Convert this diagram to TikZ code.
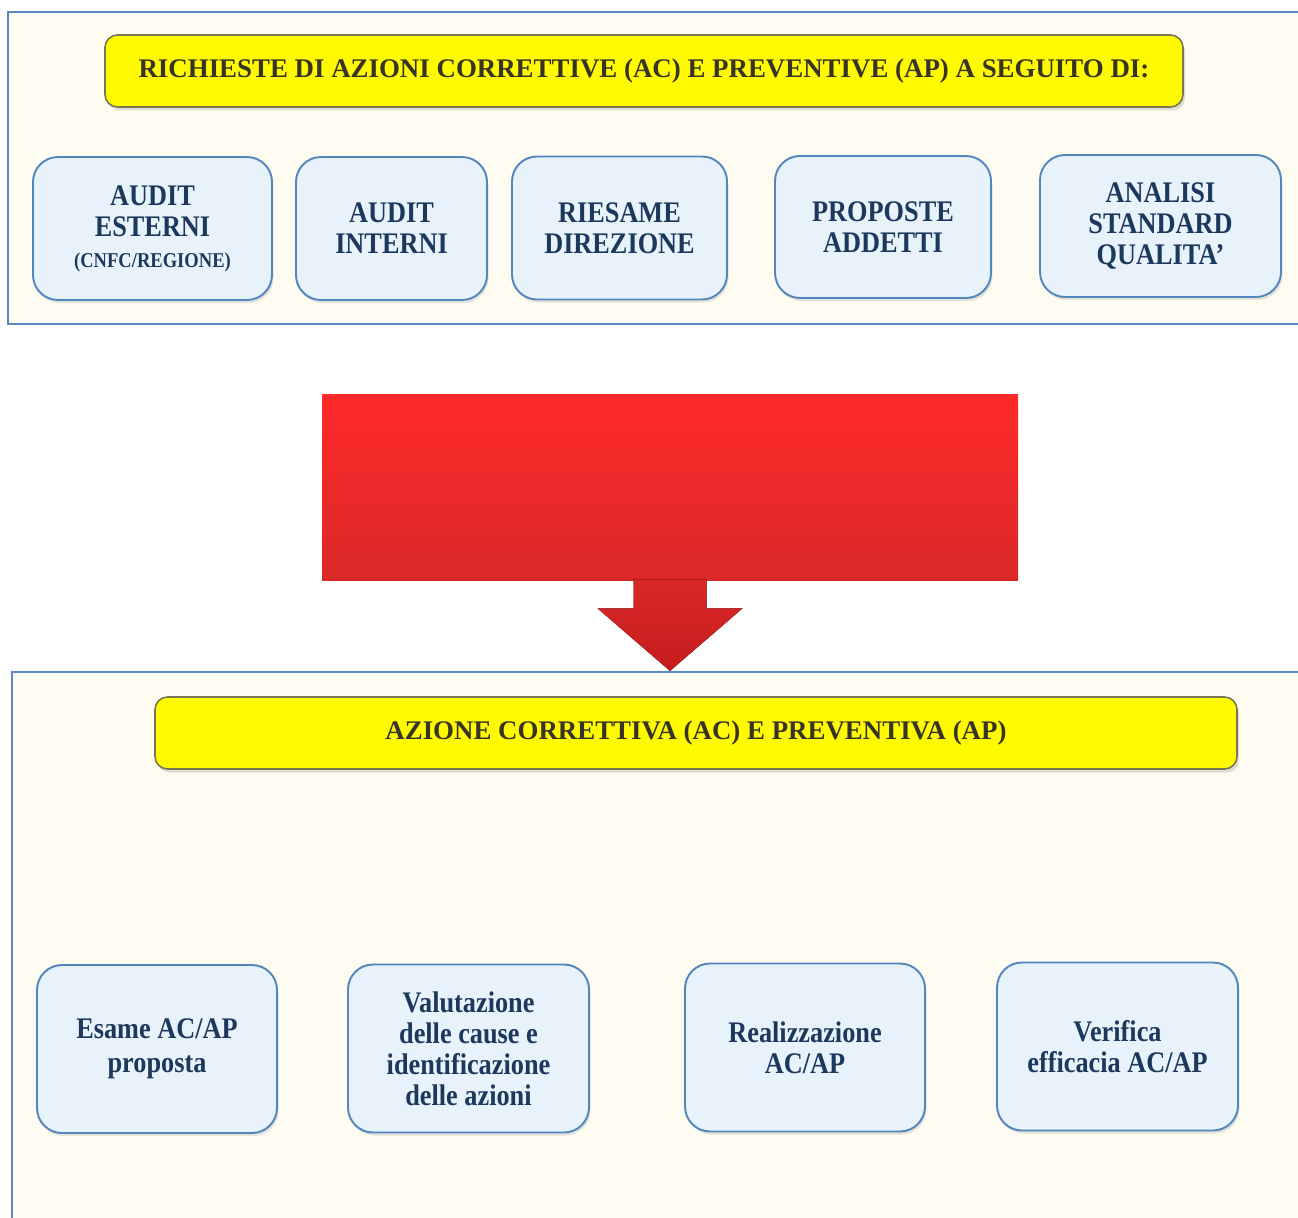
\documentclass[tikz,border=0pt]{standalone}
\usepackage{fontspec}
\setmainfont{Liberation Serif}[FakeStretch=0.88]
\newfontfamily\largo{Liberation Serif}
\usepackage{tikz}
\usetikzlibrary{positioning,shadows,calc}
\definecolor{panelblue}{RGB}{90,138,192}
\definecolor{panelcream}{RGB}{254,252,240}
\definecolor{boxblue}{RGB}{232,242,251}
\definecolor{boxedge}{RGB}{84,134,190}
\definecolor{textnavy}{RGB}{28,56,92}
\definecolor{titleyellow}{RGB}{255,250,0}
\definecolor{titleedge}{RGB}{120,120,80}
\definecolor{titletext}{RGB}{55,52,38}
\definecolor{redtop}{RGB}{255,42,42}
\definecolor{redmid}{RGB}{218,40,40}
\definecolor{redbottom}{RGB}{196,28,30}

\begin{document}
\begin{tikzpicture}[
    pannello/.style={draw=panelblue, line width=1.2pt, fill=panelcream, rectangle, inner sep=0pt},
    titolo/.style={draw=titleedge, line width=0.9pt, fill=titleyellow, rounded corners=2.5mm, minimum height=1.44cm,
        font=\largo\fontsize{15.3}{18}\selectfont\bfseries, text=titletext, drop shadow={opacity=0.25, shadow xshift=0.4mm, shadow yshift=-0.7mm}},
    voce/.style={draw=boxedge, line width=1.1pt, fill=boxblue, rounded corners=5mm, align=center, inner sep=2pt,
        font=\fontsize{17}{17.6}\selectfont\bfseries, text=textnavy, drop shadow={opacity=0.2, shadow xshift=0.3mm, shadow yshift=-0.6mm}}
]
        \useasboundingbox (0,0) rectangle (25.96,-24.34);

        % Pannello superiore: richieste
        \node[pannello, minimum width=26.14cm, minimum height=6.24cm] (pannelloA) at (13.23,-3.36) {};
        \node[titolo, minimum width=21.56cm] (richieste) at (12.88,-1.42) {RICHIESTE DI AZIONI CORRETTIVE (AC) E PREVENTIVE (AP) A SEGUITO DI:};
        \node[voce, minimum width=4.78cm, minimum height=2.86cm] (esterni) at (3.05,-4.57) {AUDIT\\ESTERNI\\{\fontsize{12}{14}\selectfont (CNFC/REGIONE)}};
        \node[voce, minimum width=3.82cm, minimum height=2.86cm] (interni) at (7.83,-4.57) {AUDIT\\INTERNI};
        \node[voce, minimum width=4.30cm, minimum height=2.86cm] (riesame) at (12.39,-4.56) {RIESAME\\DIREZIONE};
        \node[voce, minimum width=4.32cm, minimum height=2.84cm] (proposte) at (17.66,-4.54) {PROPOSTE\\ADDETTI};
        \node[voce, minimum width=4.82cm, minimum height=2.84cm] (analisi) at (23.21,-4.52) {ANALISI\\STANDARD\\QUALITA'};

        % Pannello inferiore: azione
        \node[pannello, minimum width=26.06cm, minimum height=11.16cm] (pannelloB) at (13.27,-19.02) {};
        \node[titolo, minimum width=21.64cm] (azione) at (13.92,-14.66) {AZIONE CORRETTIVA (AC) E PREVENTIVA (AP)};
        \node[voce, minimum width=4.80cm, minimum height=3.36cm] (esame) at (3.14,-20.98) {Esame AC/AP\\[1.5pt]proposta};
        \node[voce, minimum width=4.82cm, minimum height=3.36cm] (valutazione) at (9.37,-20.97) {Valutazione\\delle cause e\\identificazione\\delle azioni};
        \node[voce, minimum width=4.80cm, minimum height=3.36cm] (realizzazione) at (16.10,-20.95) {Realizzazione\\AC/AP};
        \node[voce, minimum width=4.82cm, minimum height=3.36cm] (verifica) at (22.35,-20.93) {Verifica\\efficacia AC/AP};

        % Freccia rossa
        \node[rectangle, inner sep=0pt, top color=redtop, bottom color=redmid, minimum width=13.92cm, minimum height=3.72cm] (blocco) at (13.40,-9.74) {};
        \coordinate (punta) at (blocco.south |- pannelloB.north);
        \fill[top color=redmid, bottom color=redbottom]
            ($(blocco.south)+(-0.73,0.02)$) -- ($(blocco.south)+(-0.73,-0.56)$) -- ($(blocco.south)+(-1.45,-0.56)$)
            -- (punta) -- ($(blocco.south)+(1.45,-0.56)$) -- ($(blocco.south)+(0.73,-0.56)$) -- ($(blocco.south)+(0.73,0.02)$) -- cycle;
    \end{tikzpicture}
\end{document}
